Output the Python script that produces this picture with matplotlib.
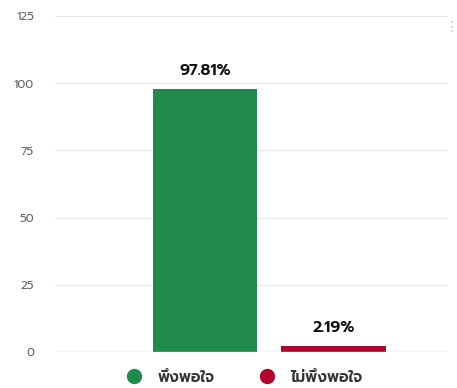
import matplotlib
matplotlib.use("Agg")
import matplotlib.pyplot as plt

categories = ["พึงพอใจ", "ไม่พึงพอใจ"]
values = [97.81, 2.19]
labels = ["97.81%", "2.19%"]
colors = ["#1f8a4c", "#b0062c"]
yticks = [0, 25, 50, 75, 100, 125]

plt.rcParams["font.family"] = ["Prompt", "DejaVu Sans"]

fig = plt.figure(figsize=(4.57, 3.88), dpi=100)
ax = fig.add_axes([0.120, 0.0928, 0.860, 0.866])
x = [0, 1]
ax.bar(x, values, width=0.81, color=colors, zorder=3)
ax.set_ylim(0, 125)
ax.set_xlim(-1.167, 1.89)
ax.set_yticks(yticks)
ax.set_yticklabels([str(t) for t in yticks], color="#666666", fontsize=8.5)
ax.tick_params(axis="y", length=0, pad=15)
ax.set_xticks([])
for s in ax.spines.values():
    s.set_visible(False)
ax.grid(axis="y", color="#e6e6e6", linewidth=0.8, zorder=0)
ax.axhline(0, color="#ccd6eb", linewidth=1, zorder=4)
for xi, v, lab in zip(x, values, labels):
    ax.annotate(lab, (xi, v), xytext=(0, 7), textcoords="offset points",
                ha="center", va="bottom", fontsize=11.5, fontweight="semibold", color="#111111")
handles = [plt.Line2D([], [], marker="o", linestyle="", markersize=10, color=c) for c in colors]
fig.legend(handles, categories, loc="center", bbox_to_anchor=(0.527, 0.027), ncol=2,
           frameon=False, handletextpad=0.55, columnspacing=2.4,
           labelcolor="#333333", prop={"family": ["Prompt", "DejaVu Sans"], "weight": "semibold", "size": 11})
fig.text(0.988, 0.93, "⋮", fontsize=10, ha="center", va="center", color="#c8c8c8",
         family=["DejaVu Sans"])
fig.savefig("out.png", dpi=100, facecolor="white")
